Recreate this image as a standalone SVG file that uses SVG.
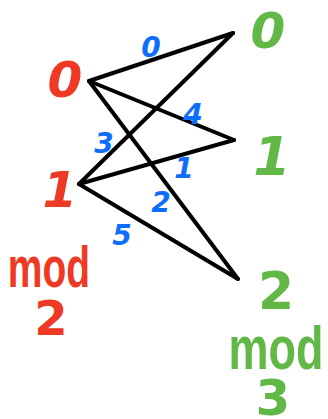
<svg xmlns="http://www.w3.org/2000/svg" width="328" height="419" viewBox="0 0 328 419">
<style>
text{font-family:"DejaVu Sans","Liberation Sans",sans-serif;font-weight:bold;font-style:italic;text-anchor:middle;dominant-baseline:central}
.r{fill:#ee3a24}
.g{fill:#62b846}
.b{fill:#0d6efd;font-size:28px}
.big{font-size:50px}
.mod{font-family:"Liberation Sans",sans-serif;font-style:normal;dominant-baseline:alphabetic}
.dig{font-style:normal;font-size:48px}
line{stroke:#000;stroke-width:4;stroke-linecap:round}
</style>
<rect width="328" height="419" fill="#fff"/>
<g id="connectors">
<line x1="89" y1="81" x2="233" y2="33"/>
<line x1="89" y1="81" x2="234" y2="140"/>
<line x1="89" y1="81" x2="238" y2="279"/>
<line x1="79" y1="184" x2="233" y2="33"/>
<line x1="79" y1="184" x2="234" y2="140"/>
<line x1="79" y1="184" x2="238" y2="279"/>
<text class="b" x="151" y="47">0</text>
<text class="b" x="193" y="114">4</text>
<text class="b" x="104" y="143">3</text>
<text class="b" x="184" y="168">1</text>
<text class="b" x="161" y="202">2</text>
<text class="b" x="122" y="235">5</text>
</g>
<g id="left0"><text class="r big" x="65" y="80">0</text></g>
<g id="left1"><text class="r big" x="60" y="190">1</text></g>
<g id="leftmod"><text class="r mod" x="0" y="0" transform="translate(49,287) scale(1,1.45)" style="font-size:39px">mod</text><text class="r dig" x="51" y="318">2</text></g>
<g id="right0"><text class="g big" x="268" y="31">0</text></g>
<g id="right1"><text class="g big" x="272" y="156" style="font-size:54px">1</text></g>
<g id="right2"><text class="g dig" x="276" y="291" style="font-size:52px">2</text></g>
<g id="rightmod"><text class="g mod" x="0" y="0" transform="translate(276,369) scale(1,1.35)" style="font-size:45px">mod</text><text class="g dig" x="273" y="398" style="font-size:50px">3</text></g>
</svg>
